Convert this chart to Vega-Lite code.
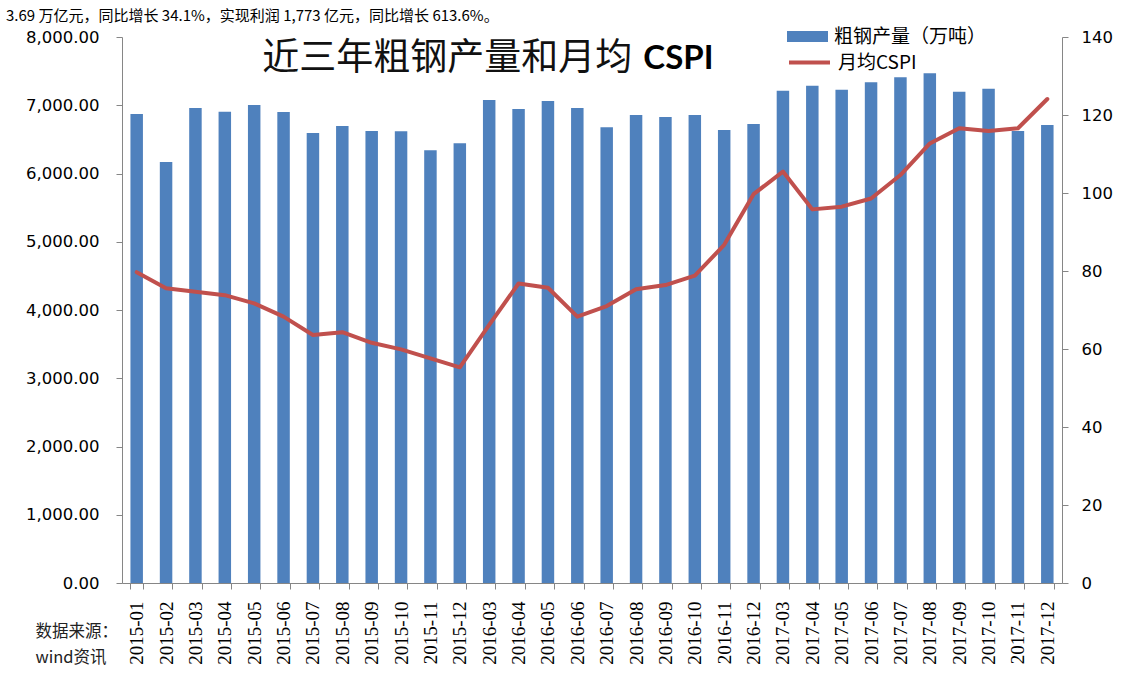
{
  "$schema": "https://vega.github.io/schema/vega-lite/v6.json",
  "width": 940,
  "height": 546,
  "autosize": {"type": "none"},
  "padding": {"left": 122, "top": 37, "right": 60, "bottom": 96},
  "background": "white",
  "view": {"stroke": null},
  "title": {
    "text": "3.69 万亿元，同比增长 34.1%，实现利润 1,773 亿元，同比增长 613.6%。",
    "font": "Noto Sans CJK SC",
    "fontSize": 15,
    "fontWeight": "normal",
    "color": "#000000",
    "anchor": "start",
    "frame": "group",
    "dx": -116,
    "dy": 23,
    "baseline": "bottom",
    "offset": 0
  },
  "data": {
    "values": [
      {"month": "2015-01", "steel": 6870, "cspi": 79.7},
      {"month": "2015-02", "steel": 6170, "cspi": 75.6},
      {"month": "2015-03", "steel": 6960, "cspi": 74.7},
      {"month": "2015-04", "steel": 6906, "cspi": 73.8},
      {"month": "2015-05", "steel": 7004, "cspi": 71.7},
      {"month": "2015-06", "steel": 6901, "cspi": 68.3},
      {"month": "2015-07", "steel": 6593, "cspi": 63.6},
      {"month": "2015-08", "steel": 6696, "cspi": 64.3},
      {"month": "2015-09", "steel": 6623, "cspi": 61.6},
      {"month": "2015-10", "steel": 6620, "cspi": 59.9},
      {"month": "2015-11", "steel": 6340, "cspi": 57.6},
      {"month": "2015-12", "steel": 6442, "cspi": 55.3},
      {"month": "2016-03", "steel": 7077, "cspi": 66.2},
      {"month": "2016-04", "steel": 6945, "cspi": 76.8},
      {"month": "2016-05", "steel": 7062, "cspi": 75.7},
      {"month": "2016-06", "steel": 6960, "cspi": 68.3},
      {"month": "2016-07", "steel": 6677, "cspi": 71.0},
      {"month": "2016-08", "steel": 6857, "cspi": 75.3},
      {"month": "2016-09", "steel": 6828, "cspi": 76.4},
      {"month": "2016-10", "steel": 6857, "cspi": 78.8},
      {"month": "2016-11", "steel": 6637, "cspi": 86.7},
      {"month": "2016-12", "steel": 6725, "cspi": 99.7},
      {"month": "2017-03", "steel": 7213, "cspi": 105.5},
      {"month": "2017-04", "steel": 7287, "cspi": 95.8},
      {"month": "2017-05", "steel": 7228, "cspi": 96.5},
      {"month": "2017-06", "steel": 7336, "cspi": 98.6},
      {"month": "2017-07", "steel": 7409, "cspi": 104.6},
      {"month": "2017-08", "steel": 7468, "cspi": 112.7},
      {"month": "2017-09", "steel": 7199, "cspi": 116.6},
      {"month": "2017-10", "steel": 7243, "cspi": 115.9},
      {"month": "2017-11", "steel": 6623, "cspi": 116.6},
      {"month": "2017-12", "steel": 6711, "cspi": 124.1}
    ]
  },
  "encoding": {
    "x": {
      "field": "month",
      "type": "ordinal",
      "sort": null,
      "scale": {"paddingInner": 0.575, "paddingOuter": 0.2875},
      "axis": {
        "title": ["数据来源：", "wind资讯"],
        "titleFont": "Noto Sans CJK SC",
        "titleFontSize": 16.5,
        "titleFontWeight": "normal",
        "titleColor": "#222222",
        "titleX": -87,
        "titleY": 40,
        "titleAlign": "left",
        "titleBaseline": "top",
        "titleAngle": 0,
        "titleLineHeight": 26,
        "labelAngle": -90,
        "labelFont": "Liberation Serif",
        "labelFontSize": 19,
        "labelColor": "#000000",
        "labelPadding": 12,
        "labelOverlap": false,
        "tickBand": "extent",
        "tickSize": 6,
        "tickColor": "#868686",
        "domainColor": "#868686",
        "grid": false
      }
    }
  },
  "layer": [
    {
      "layer": [
        {
          "mark": {"type": "bar", "fill": "#4F81BD"},
          "encoding": {
            "y": {
              "field": "steel",
              "type": "quantitative",
              "title": null,
              "scale": {"domain": [0, 8000]},
              "axis": {
                "values": [0, 1000, 2000, 3000, 4000, 5000, 6000, 7000, 8000],
                "format": ",.2f",
                "labelFont": "DejaVu Sans",
                "labelFontSize": 16.5,
                "labelColor": "#000000",
                "labelPadding": 17,
                "tickSize": 6,
                "tickColor": "#868686",
                "domainColor": "#868686",
                "grid": false,
                "title": null
              }
            },
            "fill": {
              "datum": "粗钢产量（万吨）",
              "scale": {"range": ["#4F81BD"]},
              "legend": {
                "orient": "none",
                "legendX": 665,
                "legendY": -21,
                "title": null,
                "symbolType": "M-1,-0.27H1V0.27H-1Z",
                "symbolSize": 1681,
                "symbolStrokeWidth": 0,
                "labelFont": "Noto Sans CJK SC",
                "labelFontSize": 19,
                "labelColor": "#000000",
                "labelOffset": 6
              }
            }
          }
        },
        {
          "data": {"values": [{}]},
          "mark": {"type": "text", "text": "近三年粗钢产量和月均", "font": "Noto Sans CJK SC", "fontSize": 37, "align": "left", "baseline": "middle", "color": "#111111", "dx": 8, "dy": 3},
          "encoding": {
            "x": {"datum": "2015-05", "type": "ordinal"},
            "y": {"datum": 7720, "type": "quantitative", "title": null}
          }
        },
        {
          "data": {"values": [{}]},
          "mark": {"type": "text", "text": "CSPI", "font": "Lato", "fontWeight": "bold", "fontSize": 33, "align": "left", "baseline": "middle", "color": "#000000", "dx": 66, "dy": 3},
          "encoding": {
            "x": {"datum": "2016-06", "type": "ordinal"},
            "y": {"datum": 7720, "type": "quantitative", "title": null}
          }
        }
      ]
    },
    {
      "mark": {"type": "line", "strokeWidth": 4, "strokeJoin": "round", "strokeCap": "round"},
      "encoding": {
        "y": {
          "field": "cspi",
          "type": "quantitative",
          "title": null,
          "scale": {"domain": [0, 140]},
          "axis": {
            "orient": "right",
            "values": [0, 20, 40, 60, 80, 100, 120, 140],
            "labelFont": "DejaVu Sans",
            "labelFontSize": 16.5,
            "labelColor": "#000000",
            "labelPadding": 13,
            "tickSize": 6,
            "tickColor": "#868686",
            "domainColor": "#868686",
            "grid": false,
            "title": null
          }
        },
        "stroke": {
          "datum": "月均CSPI",
          "scale": {"range": ["#C0504D"]},
          "legend": {
            "orient": "none",
            "legendX": 665,
            "legendY": 3,
            "title": null,
            "symbolType": "stroke",
            "symbolSize": 1681,
            "symbolStrokeWidth": 4,
            "labelFont": "Noto Sans CJK SC",
            "labelFontSize": 19,
            "labelColor": "#000000",
            "labelOffset": 6
          }
        }
      }
    }
  ],
  "resolve": {"scale": {"y": "independent"}}
}
